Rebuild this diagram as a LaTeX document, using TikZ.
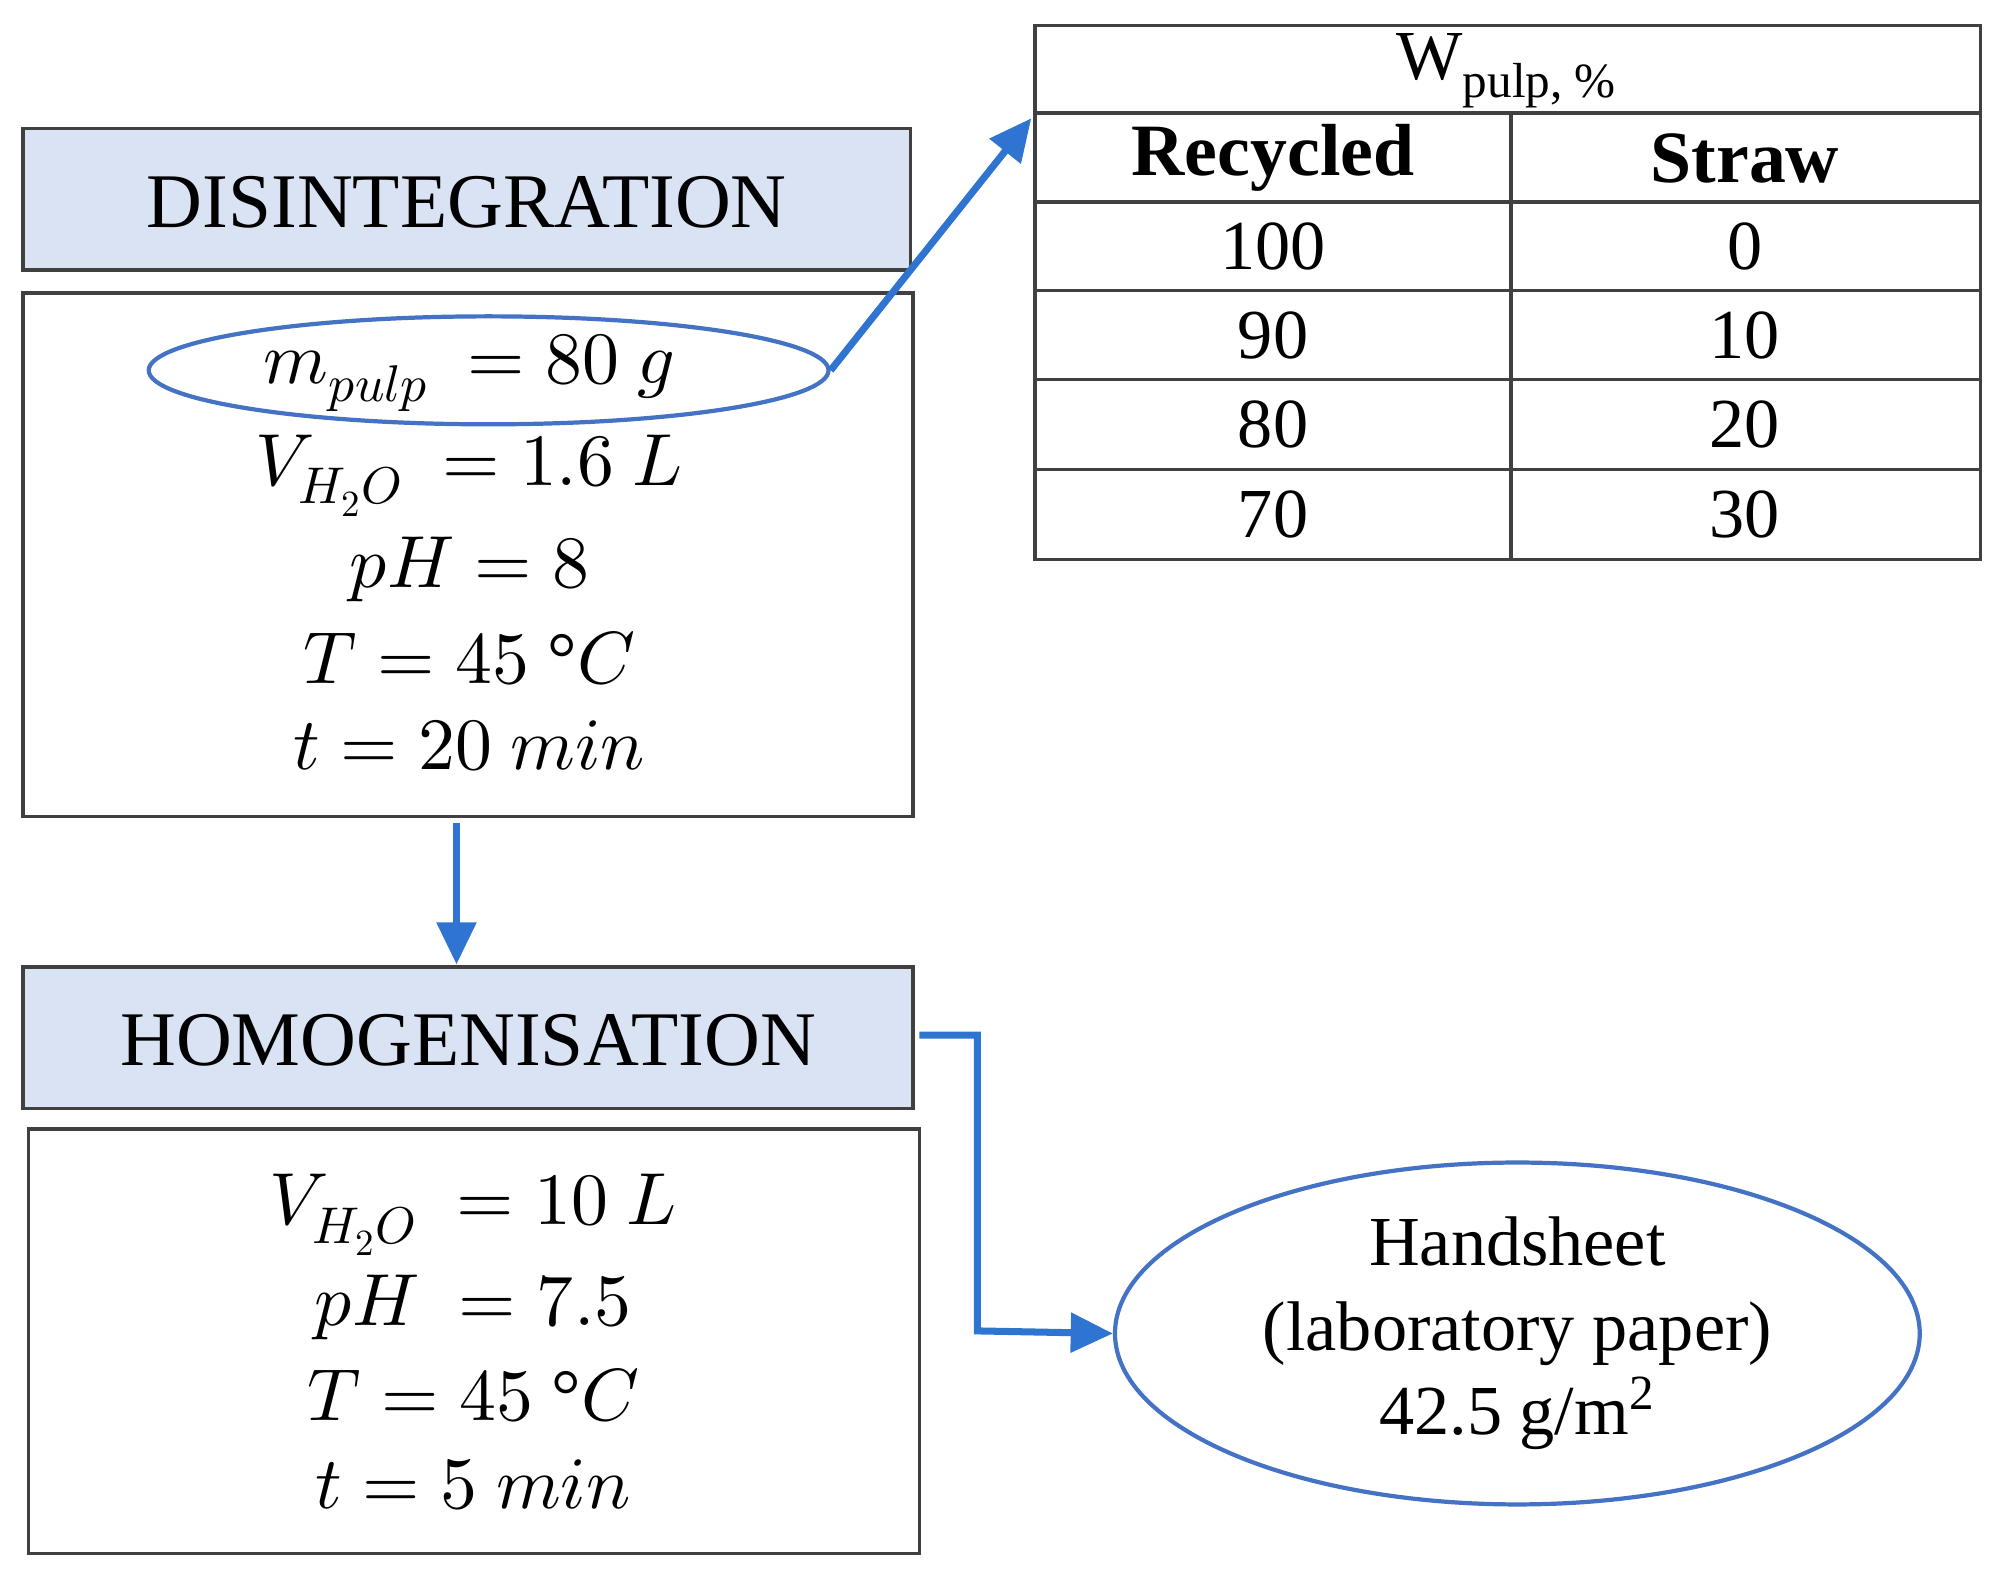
\documentclass[tikz,border=0pt]{standalone}
\usepackage{fontspec}
\usepackage{unicode-math}
\setmainfont{Liberation Serif}
\setmathfont{Latin Modern Math}
\usetikzlibrary{arrows.meta,shapes.geometric}
\definecolor{hdr}{HTML}{DAE3F3}
\definecolor{arr}{HTML}{2E74D0}
\definecolor{ell}{HTML}{4472C4}
\begin{document}
\begin{tikzpicture}[x=0.01286cm,y=-0.01286cm,
  hbox/.style={draw=black!75,line width=1pt,fill=hdr},
  pbox/.style={draw=black!75,line width=1pt},
  txt/.style={font=\fontsize{22}{26}\selectfont},
  mt/.style={font=\fontsize{21}{24}\selectfont,inner sep=1pt},
  tt/.style={font=\fontsize{20}{24}\selectfont},
  conn/.style={draw=arr,line width=2pt,-{Triangle[length=12pt,width=11pt]}}]
\useasboundingbox (0,0) rectangle (1560,1231);
% disintegration
\draw[hbox] (18,100) rectangle (708,210);
\node[txt] (dis) at (363,157) {DISINTEGRATION};
\draw[pbox] (18,228) rectangle (710,635);
\node[draw=ell,line width=1.2pt,ellipse,inner sep=0pt,minimum width=6.8cm,minimum height=1.08cm] (e1) at (380,288) {};
\node[mt] (m1) at (365,290) {$m_{pulp}\ = 80\ g$};
\node[mt] (m2) at (365,370) {$V_{H_2O}\ = 1.6\ L$};
\node[mt] (m3) at (365,443) {$pH = 8$};
\node[mt] (m4) at (365,512) {$T = 45\ \text{°}C$};
\node[mt] (m5) at (365,580) {$t = 20\ min$};
\coordinate (d1) at (355,640);
\coordinate (h1) at (355,750);
\draw[conn] (d1) -- (h1);
% homogenisation
\draw[hbox] (18,752) rectangle (710,862);
\node[txt] (hom) at (364,809) {HOMOGENISATION};
\draw[pbox] (22,878) rectangle (715,1208);
\node[mt] (n1) at (368,945) {$V_{H_2O}\ = 10\ L$};
\node[mt] (n2) at (368,1017) {$pH\ = 7.5$};
\node[mt] (n3) at (368,1085) {$T = 45\ \text{°}C$};
\node[mt] (n4) at (368,1155) {$t = 5\ min$};
% handsheet
\node[draw=ell,line width=1.2pt,ellipse,inner sep=0pt,minimum width=8.05cm,minimum height=3.42cm,align=center,font=\fontsize{20}{24}\selectfont] (hs) at (1180,1037) {Handsheet\\(laboratory paper)\\42.5 g/m\textsuperscript{2}};
\coordinate (c0) at (715,805);
\draw[conn] (c0) -- (760,805) -- (760,1035) -- (hs.west);
% table
\draw[pbox] (805,20) rectangle (1540,435);
\foreach \yy in {88,157,226,295,365} \draw[pbox] (805,\yy) -- (1540,\yy);
\draw[pbox] (1175,88) -- (1175,435);
\node[tt] (th) at (1172,55) {W\textsubscript{pulp, \%}};
\node[font=\fontsize{21}{24}\selectfont\bfseries] (tr) at (990,123) {Recycled};
\node[font=\fontsize{21}{24}\selectfont\bfseries] (ts) at (1357,123) {Straw};
\foreach \a/\b/\yy [count=\i] in {100/0/192,90/10/261,80/20/330,70/30/400}{
  \node[tt] (ra\i) at (990,\yy) {\a};
  \node[tt] (rb\i) at (1357,\yy) {\b};}
\coordinate (tl) at (802,92);
\draw[conn] (e1.east) -- (tl);
\end{tikzpicture}
\end{document}
